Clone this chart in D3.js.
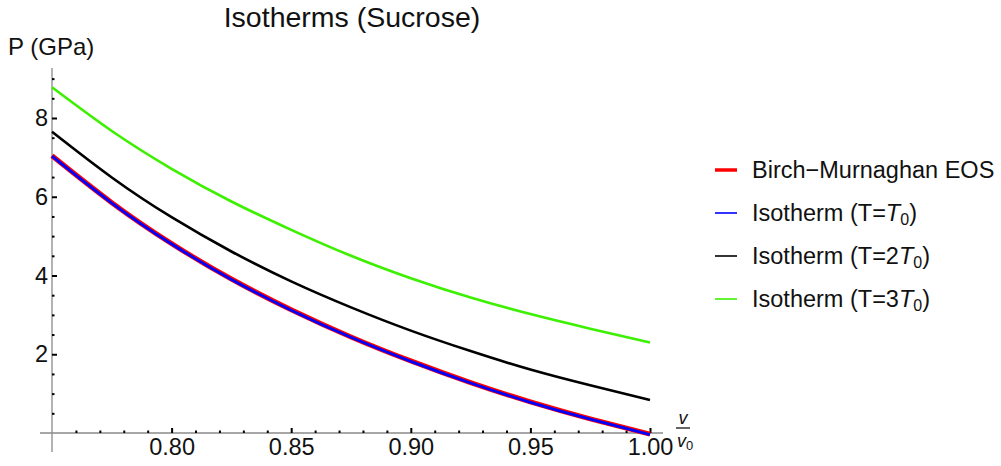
<!DOCTYPE html>
<html>
<head>
<meta charset="utf-8">
<script src="https://cdn.jsdelivr.net/npm/d3@7"></script>
<style>
  html, body { margin: 0; padding: 0; background: #fff; }
  svg { display: block; font-family: "Liberation Sans", Arial, Helvetica, sans-serif; }
</style>
</head>
<body>
<svg id="chart" width="1001" height="466"></svg>
<script>
// Relative volume v/v0
const volume = [0.75, 0.775, 0.80, 0.825, 0.85, 0.875, 0.90, 0.925, 0.95, 0.975, 1.00];
// Pressure (GPa) for each curve
const birchMurnaghan = [7.04, 5.85, 4.81, 3.91, 3.13, 2.44, 1.83, 1.28, 0.79, 0.36, -0.03];
const isothermT0     = [7.03, 5.84, 4.80, 3.90, 3.12, 2.43, 1.82, 1.27, 0.78, 0.35, -0.04];
const isotherm2T0    = [7.65, 6.49, 5.48, 4.61, 3.85, 3.19, 2.60, 2.08, 1.61, 1.21, 0.84];
const isotherm3T0    = [8.78, 7.67, 6.71, 5.88, 5.16, 4.50, 3.93, 3.44, 3.02, 2.65, 2.30];

const xMajorTicks = [0.80, 0.85, 0.90, 0.95, 1.00];
const yMajorTicks = [2, 4, 6, 8];

const svg = d3.select("#chart");

const x = d3.scaleLinear().domain([0.75, 1.00]).range([52, 650]);
const y = d3.scaleLinear().domain([0, 8]).range([433, 118]);

// Minor tick positions
const xMinor = d3.range(76, 101).map(d => d / 100).filter(d => !xMajorTicks.some(t => Math.abs(t - d) < 1e-9));
const yMinor = d3.range(1, 19).map(d => d / 2).filter(d => !yMajorTicks.includes(d));

// Axis lines (gray), running a little past the plot range
svg.append("line")
  .attr("x1", 40).attr("x2", 663)
  .attr("y1", y(0)).attr("y2", y(0))
  .attr("stroke", "#8a8a8a").attr("stroke-width", 1.3);
svg.append("line")
  .attr("x1", x(0.75)).attr("x2", x(0.75))
  .attr("y1", 68).attr("y2", 452)
  .attr("stroke", "#8a8a8a").attr("stroke-width", 1.3);

// Y axis: inward ticks, labels to the left
const yAxis = d3.axisLeft(y).tickValues(yMajorTicks).tickFormat(d3.format("d"))
  .tickSizeInner(-5).tickSizeOuter(0).tickPadding(4);
const gy = svg.append("g").attr("transform", `translate(${x(0.75)},0)`).call(yAxis);
gy.select(".domain").remove();
gy.selectAll(".tick line").attr("stroke", "#000").attr("stroke-width", 2);
gy.selectAll(".tick text").attr("font-size", 23.5).attr("fill", "#111")
  .attr("font-family", "Liberation Sans, Arial, sans-serif");

const yMinorAxis = d3.axisLeft(y).tickValues(yMinor).tickFormat("")
  .tickSizeInner(-2.5).tickSizeOuter(0);
const gym = svg.append("g").attr("transform", `translate(${x(0.75)},0)`).call(yMinorAxis);
gym.select(".domain").remove();
gym.selectAll(".tick line").attr("stroke", "#000").attr("stroke-width", 2);

// X axis: inward ticks, labels below
const xAxis = d3.axisBottom(x).tickValues(xMajorTicks).tickFormat(d3.format(".2f"))
  .tickSizeInner(-5).tickSizeOuter(0).tickPadding(5);
const gx = svg.append("g").attr("transform", `translate(0,${y(0)})`).call(xAxis);
gx.select(".domain").remove();
gx.selectAll(".tick line").attr("stroke", "#000").attr("stroke-width", 2);
gx.selectAll(".tick text").attr("font-size", 23.5).attr("fill", "#111")
  .attr("font-family", "Liberation Sans, Arial, sans-serif");

const xMinorAxis = d3.axisBottom(x).tickValues(xMinor).tickFormat("")
  .tickSizeInner(-2.5).tickSizeOuter(0);
const gxm = svg.append("g").attr("transform", `translate(0,${y(0)})`).call(xMinorAxis);
gxm.select(".domain").remove();
gxm.selectAll(".tick line").attr("stroke", "#000").attr("stroke-width", 2);

// Curves
const line = d3.line()
  .x((d, i) => x(volume[i]))
  .y(d => y(d))
  .curve(d3.curveNatural);

const series = [
  { values: birchMurnaghan, color: "#ff0000", width: 5 },
  { values: isotherm3T0,    color: "#3cf000", width: 2.6 },
  { values: isotherm2T0,    color: "#000000", width: 2.6 },
  { values: isothermT0,     color: "#0000ff", width: 2.8 }
];
svg.append("g").selectAll("path").data(series).join("path")
  .attr("d", d => line(d.values))
  .attr("fill", "none")
  .attr("stroke", d => d.color)
  .attr("stroke-width", d => d.width)
  .attr("stroke-linejoin", "round");

// Title
svg.append("text")
  .attr("x", 352).attr("y", 27)
  .attr("text-anchor", "middle")
  .attr("font-size", 28.5).attr("fill", "#111")
  .text("Isotherms (Sucrose)");

// Y axis label
svg.append("text")
  .attr("x", 8).attr("y", 55)
  .attr("font-size", 24).attr("fill", "#111")
  .text("P (GPa)");

// X axis label: v / v0
const xl = svg.append("g").attr("font-size", 18).attr("fill", "#111");
xl.append("text").attr("x", 683).attr("y", 424).attr("text-anchor", "middle")
  .attr("font-style", "italic").text("v");
xl.append("line").attr("x1", 676).attr("x2", 690).attr("y1", 428).attr("y2", 428)
  .attr("stroke", "#111").attr("stroke-width", 1.3);
const v0 = xl.append("text").attr("x", 677).attr("y", 447);
v0.append("tspan").attr("font-style", "italic").text("v");
v0.append("tspan").attr("font-size", 13).attr("dy", 3).text("0");

// Legend
const legendItems = [
  { label: "Birch\u2212Murnaghan EOS", color: "#ff0000", width: 3.5, sub: null },
  { label: "Isotherm (T=", color: "#0000ff", width: 1.6, sub: "" },
  { label: "Isotherm (T=2", color: "#000000", width: 1.6, sub: "" },
  { label: "Isotherm (T=3", color: "#3cf000", width: 1.6, sub: "" }
];
const legend = svg.append("g");
legendItems.forEach((item, i) => {
  const cy = 170 + i * 43;
  legend.append("line")
    .attr("x1", 715).attr("x2", 737).attr("y1", cy).attr("y2", cy)
    .attr("stroke", item.color).attr("stroke-width", item.width);
  const t = legend.append("text")
    .attr("x", 752).attr("y", cy + 8)
    .attr("font-size", 23.5).attr("fill", "#111");
  t.append("tspan").text(item.label);
  if (item.sub !== null) {
    t.append("tspan").attr("font-style", "italic").text("T");
    t.append("tspan").attr("font-size", 16).attr("dy", 4).text("0");
    t.append("tspan").attr("dy", -4).text(")");
  }
});
</script>
</body>
</html>
